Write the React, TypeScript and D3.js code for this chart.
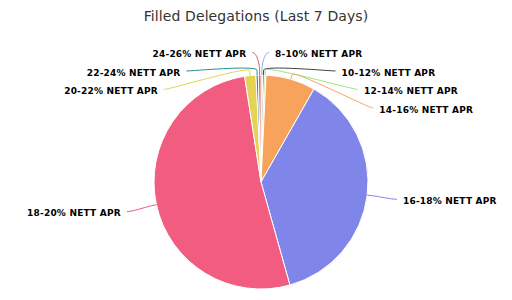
import React from "react";
import * as d3 from "d3";

const categories = [
  "8-10% NETT APR",
  "10-12% NETT APR",
  "12-14% NETT APR",
  "14-16% NETT APR",
  "16-18% NETT APR",
  "18-20% NETT APR",
  "20-22% NETT APR",
  "22-24% NETT APR",
  "24-26% NETT APR",
];
const values = [0.25, 0.25, 0.25, 7.5, 37.4, 51.9, 1.7, 0.35, 0.4];
const colors = [
  "#7cb5ec",
  "#434348",
  "#90ed7d",
  "#f7a35c",
  "#8085e9",
  "#f15c80",
  "#e4d354",
  "#2b908f",
  "#f45b5b",
];
const title = "Filled Delegations (Last 7 Days)";

const W = 512;
const H = 300;
const cx = 261;
const cy = 182;
const r = 107;
const labelR = 137.6;
const spacing = 18.5;
const topBound = 54;

type Lab = {
  i: number;
  mid: number;
  right: boolean;
  natY: number;
  y: number;
  x: number;
};

export default function App() {
  const pie = d3
    .pie<number>()
    .sort(null)
    .value((d) => d)
    .startAngle(0)
    .endAngle(2 * Math.PI);
  const arcs = pie(values);
  const arcGen = d3.arc<d3.PieArcDatum<number>>().innerRadius(0).outerRadius(r);

  const polar = (rad: number, a: number): [number, number] => [
    cx + rad * Math.sin(a),
    cy - rad * Math.cos(a),
  ];

  const labs: Lab[] = arcs.map((a, i) => {
    const mid = (a.startAngle + a.endAngle) / 2;
    return {
      i,
      mid,
      right: mid < Math.PI,
      natY: cy + 2 - labelR * Math.cos(mid),
      y: 0,
      x: 0,
    };
  });

  [true, false].forEach((side) => {
    const group = labs.filter((l) => l.right === side).sort((a, b) => a.natY - b.natY);
    let prev = -Infinity;
    group.forEach((l) => {
      const y = Math.max(l.natY, prev + spacing, topBound);
      l.y = y;
      prev = y;
      const sign = side ? 1 : -1;
      if (l.natY < topBound && y === topBound) {
        l.x = cx + labelR * Math.sin(l.mid) + sign * 13;
      } else {
        const dy = y - (cy + 5.5);
        l.x = cx + sign * Math.sqrt(Math.max(0, labelR * labelR - dy * dy)) + sign * 5;
      }
    });
  });

  return (
    <svg width={W} height={H} style={{ display: "block", position: "absolute", left: 0, top: 0 }}>
      <rect width={W} height={H} fill="#ffffff" />
      <text
        x={W / 2}
        y={21}
        textAnchor="middle"
        fontFamily="DejaVu Sans"
        fontSize={14}
        letterSpacing={0.1}
        fill="#333333"
      >
        {title}
      </text>
      <g transform={`translate(${cx},${cy})`}>
        {arcs.map((a, i) => (
          <path key={i} d={arcGen(a) || ""} fill={colors[i]} stroke="#ffffff" strokeWidth={1} strokeLinejoin="round" />
        ))}
      </g>
      {labs.map((l) => {
        const sign = l.right ? 1 : -1;
        const sx = l.x - sign * 6;
        const sy = l.y - 1.5;
        const c1x = sx - sign * 5;
        const [c2x, c2y] = polar(r + 10, l.mid);
        const [bx, by] = polar(r + 5, l.mid);
        const [ex, ey] = polar(r, l.mid);
        const d = `M${sx},${sy}C${c1x},${sy} ${c2x},${c2y} ${bx},${by}L${ex},${ey}`;
        return <path key={"c" + l.i} d={d} fill="none" stroke={colors[l.i]} strokeWidth={1} />;
      })}
      {labs.map((l) => (
        <text
          key={"t" + l.i}
          x={l.x}
          y={l.y}
          dy="0.35em"
          textAnchor={l.right ? "start" : "end"}
          fontFamily="DejaVu Sans"
          fontWeight="bold"
          fontSize={9}
          letterSpacing={0.2}
          fill="#000000"
          stroke="#ffffff"
          strokeWidth={2}
          strokeLinejoin="round"
          style={{ paintOrder: "stroke" }}
        >
          {categories[l.i]}
        </text>
      ))}
    </svg>
  );
}
